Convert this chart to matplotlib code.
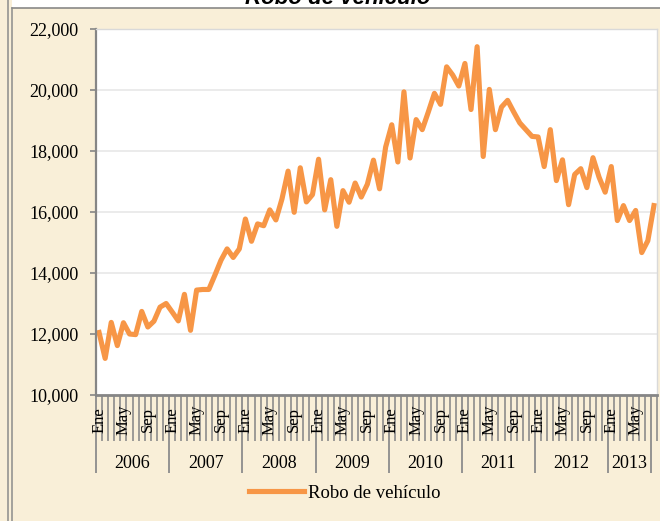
import matplotlib
matplotlib.use('Agg')
import matplotlib.pyplot as plt
from matplotlib.lines import Line2D
from matplotlib.patches import Rectangle
from matplotlib.ticker import FuncFormatter
import matplotlib.transforms as mtransforms

# datos mensuales (Ene 2006 - Ago 2013)
years = ['2006', '2007', '2008', '2009', '2010', '2011', '2012', '2013']
months = ['Ene', 'Feb', 'Mar', 'Abr', 'May', 'Jun', 'Jul', 'Ago', 'Sep', 'Oct', 'Nov', 'Dic']
shown_months = ['Ene', 'May', 'Sep']
year_group_len = [12, 12, 12, 12, 12, 12, 12, 7]

robo_2006 = [12050, 11200, 12380, 11620, 12370, 12000, 11980, 12740, 12230, 12420, 12880, 13000]
robo_2007 = [12720, 12430, 13300, 12120, 13440, 13460, 13460, 13930, 14420, 14790, 14510, 14790]
robo_2008 = [15770, 15040, 15610, 15550, 16070, 15740, 16430, 17340, 15990, 17450, 16330, 16570]
robo_2009 = [17730, 16070, 17060, 15530, 16700, 16320, 16950, 16490, 16910, 17700, 16760, 18130]
robo_2010 = [18860, 17640, 19940, 17770, 19030, 18700, 19280, 19890, 19530, 20760, 20490, 20130]
robo_2011 = [20870, 19360, 21420, 17820, 20020, 18700, 19440, 19660, 19280, 18920, 18700, 18480]
robo_2012 = [18460, 17490, 18700, 17030, 17710, 16240, 17230, 17420, 16800, 17780, 17140, 16650]
robo_2013 = [17490, 15720, 16210, 15720, 16050, 14670, 15060, 16210]

robo = robo_2006 + robo_2007 + robo_2008 + robo_2009 + robo_2010 + robo_2011 + robo_2012 + robo_2013
month_labels = [months[i % 12] for i in range(len(robo))]

W, H = 660, 521
fig = plt.figure(figsize=(W / 100, H / 100), dpi=100)
fig.patch.set_facecolor('#F9EFD8')

serif = ['Liberation Serif', 'DejaVu Serif']

# marco y caja del titulo
fig.add_artist(Rectangle((12 / W, 1 - 8 / H), 1, 8 / H, transform=fig.transFigure,
                         facecolor='white', edgecolor='none'))
fig.add_artist(Line2D([12 / W, 1], [1 - 8 / H, 1 - 8 / H], transform=fig.transFigure,
                      color='#7F7F7F', lw=1.1))
fig.add_artist(Line2D([7.5 / W, 7.5 / W], [0, 1], transform=fig.transFigure, color='#8C8C8C', lw=1.1))
fig.add_artist(Line2D([12 / W, 12 / W], [0, 1 - 8 / H], transform=fig.transFigure, color='#8C8C8C', lw=1.1))
fig.text(338 / W, 1 - 4 / H, 'Robo de vehículo', ha='center', va='baseline',
         fontsize=16, fontweight='bold', fontstyle='italic', family=['Liberation Sans', 'DejaVu Sans'])

ax = fig.add_axes([96 / W, 1 - 395 / H, 561 / W, 366 / H])
ax.set_facecolor('white')

x = [i + 0.5 for i in range(len(robo))]
line, = ax.plot(x, robo, color='#F79646', lw=3.7, solid_joinstyle='round', label='Robo de vehículo')

ax.set_xlim(0, len(robo))
ax.set_ylim(10000, 22000)
ax.set_yticks(range(10000, 22001, 2000))
ax.yaxis.set_major_formatter(FuncFormatter(lambda v, p: f'{int(v):,}'))
ax.grid(axis='y', color='#EBEBEB', lw=1.4)
ax.set_axisbelow(True)

for s in ['top', 'right']:
    ax.spines[s].set_color('#D9D9D9')
    ax.spines[s].set_linewidth(1.0)
ax.spines['left'].set_color('#868686')
ax.spines['left'].set_linewidth(1.6)
ax.spines['bottom'].set_color('#868686')
ax.spines['bottom'].set_linewidth(2.0)

ax.tick_params(axis='y', direction='out', length=4.5, width=1.2, color='#868686', pad=8)
for lab in ax.get_yticklabels():
    lab.set_family(serif)
    lab.set_fontsize(13)

# eje de categorias en dos niveles
bounds = [0]
for n in year_group_len:
    bounds.append(bounds[-1] + n)
ax.set_xticks(range(0, len(robo) + 1), minor=True)
ax.set_xticks(bounds)
ax.set_xticklabels([])
ax.tick_params(axis='x', which='minor', direction='out', length=33, width=1.2, color='#8C8C8C')
ax.tick_params(axis='x', which='major', direction='out', length=56, width=1.3, color='#8C8C8C')

trans = mtransforms.blended_transform_factory(ax.transData, ax.transAxes)
for xi, m in zip(x, month_labels):
    if m in shown_months:
        ax.text(xi, -25 / 366, m, transform=trans, rotation=90, ha='center', va='center',
                fontsize=12, family=serif)
for k, yr in enumerate(years):
    ax.text((bounds[k] + bounds[k + 1]) / 2, -68 / 366, yr, transform=trans,
            ha='center', va='center', fontsize=13, family=serif)

fig.legend(handles=[line], loc='center', bbox_to_anchor=(345 / W, 1 - 493 / H),
           frameon=False, handlelength=2.9, handletextpad=0.25,
           prop={'family': serif, 'size': 13.5})

fig.savefig('out.png', dpi=100, facecolor=fig.get_facecolor())
